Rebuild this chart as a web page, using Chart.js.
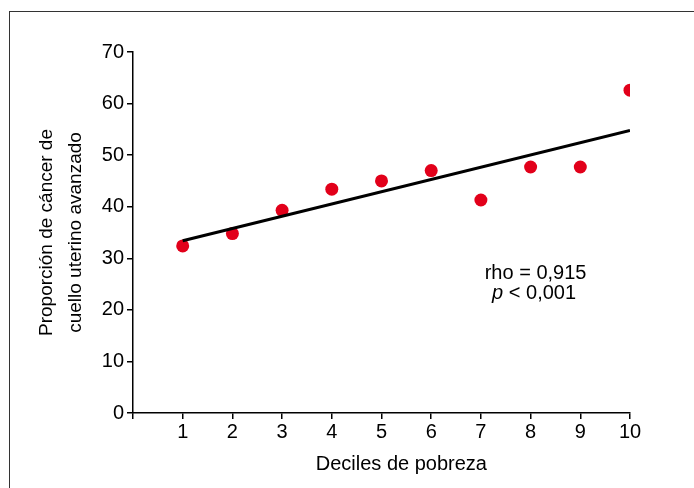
<!DOCTYPE html>
<html lang="es">
<head>
    <meta charset="UTF-8">
    <title>Deciles de pobreza</title>
    <script src="https://cdn.jsdelivr.net/npm/chart.js"></script>
    <style>
        body {
            margin: 0;
            background: #fff;
        }
        .frame {
            position: absolute;
            left: 9px;
            top: 11px;
            width: 700px;
            height: 500px;
            border-left: 1px solid #333;
            border-top: 1px solid #333;
        }
        #chart {
            position: absolute;
            left: 0;
            top: 0;
        }
    </style>
</head>
<body>
    <div class="frame"></div>
    <canvas id="chart" width="694" height="488"></canvas>
    <script>
        // values
        const deciles = [1, 2, 3, 4, 5, 6, 7, 8, 9, 10];
        const proportion = [32.4, 34.8, 39.3, 43.4, 45.0, 47.0, 41.3, 47.7, 47.7, 62.6];
        const fitX = [1, 10];
        const fitY = [33.4, 54.8];
        const yTicks = [0, 10, 20, 30, 40, 50, 60, 70];
        const xTicks = [0, 1, 2, 3, 4, 5, 6, 7, 8, 9, 10];
        const yTitle = ['Proporción de cáncer de', 'cuello uterino avanzado'];
        const xTitle = 'Deciles de pobreza';
        const rhoText = 'rho = 0,915';
        const pText = ['p', ' < 0,001'];

        const FONT = '"Liberation Sans", Arial, sans-serif';

        // x title and the rho / p note
        const notes = {
            id: 'notes',
            afterDraw(chart) {
                const ctx = chart.ctx;
                const xs = chart.scales.x, ys = chart.scales.y;
                ctx.save();
                ctx.fillStyle = '#000';
                ctx.textBaseline = 'middle';
                ctx.textAlign = 'center';
                ctx.font = '20px ' + FONT;
                ctx.fillText(xTitle, xs.getPixelForValue(5.4), 464);

                ctx.fillText(rhoText, xs.getPixelForValue(8.1), ys.getPixelForValue(27.1));

                // "p" in italics, rest upright
                ctx.textAlign = 'left';
                const it = 'italic 20px ' + FONT;
                const up = '20px ' + FONT;
                ctx.font = it;
                const w1 = ctx.measureText(pText[0]).width;
                ctx.font = up;
                const w2 = ctx.measureText(pText[1]).width;
                let x0 = xs.getPixelForValue(8.07) - (w1 + w2) / 2;
                const y0 = ys.getPixelForValue(23.2);
                ctx.font = it;
                ctx.fillText(pText[0], x0, y0);
                ctx.font = up;
                ctx.fillText(pText[1], x0 + w1, y0);
                ctx.restore();
            }
        };

        new Chart(document.getElementById('chart'), {
            type: 'scatter',
            data: {
                datasets: [{
                    type: 'line',
                    data: fitX.map((x, i) => ({ x: x, y: fitY[i] })),
                    borderColor: '#000',
                    borderWidth: 3,
                    pointRadius: 0,
                    fill: false
                }, {
                    data: deciles.map((d, i) => ({ x: d, y: proportion[i] })),
                    backgroundColor: '#e2001a',
                    borderWidth: 0,
                    pointRadius: 6.5
                }]
            },
            options: {
                responsive: false,
                animation: false,
                devicePixelRatio: 1,
                layout: { padding: { top: 52, right: 64, left: 0, bottom: 0 } },
                plugins: {
                    legend: { display: false },
                    tooltip: { enabled: false }
                },
                scales: {
                    x: {
                        type: 'linear',
                        min: 0,
                        max: 10,
                        afterFit: s => { s.height = 75; },
                        afterBuildTicks: s => { s.ticks = xTicks.map(v => ({ value: v })); },
                        ticks: {
                            color: '#000',
                            padding: 1,
                            maxRotation: 0,
                            font: { family: FONT, size: 20 },
                            callback: v => (v === 0 ? '' : v)
                        },
                        grid: { drawOnChartArea: false, drawTicks: true, tickLength: 6, color: '#000', lineWidth: 1.5 },
                        border: { display: true, color: '#000', width: 1.5 }
                    },
                    y: {
                        min: 0,
                        max: 70,
                        afterFit: s => { s.width = 133; },
                        afterBuildTicks: s => { s.ticks = yTicks.map(v => ({ value: v })); },
                        ticks: {
                            color: '#000',
                            padding: 3,
                            font: { family: FONT, size: 20 }
                        },
                        grid: { drawOnChartArea: false, drawTicks: true, tickLength: 6, color: '#000', lineWidth: 1.5 },
                        border: { display: true, color: '#000', width: 1.5 },
                        title: {
                            display: true,
                            text: yTitle,
                            color: '#000',
                            font: { family: FONT, size: 19, lineHeight: 1.55 },
                            padding: { top: 32, bottom: 0 }
                        }
                    }
                }
            },
            plugins: [notes]
        });
    </script>
</body>
</html>
